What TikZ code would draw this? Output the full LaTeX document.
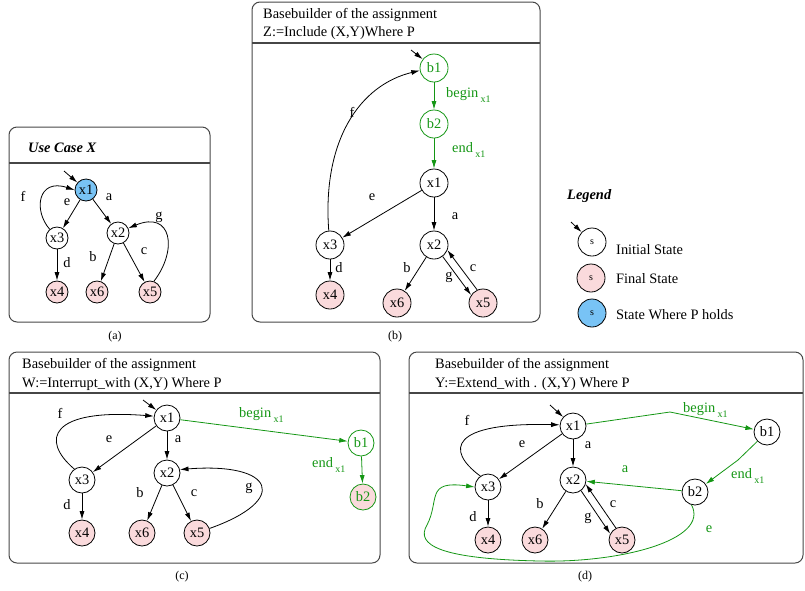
\documentclass[tikz,border=0pt]{standalone}
\usepackage{fontspec}
\setmainfont{Liberation Serif}
\usetikzlibrary{arrows.meta}
\definecolor{gr}{RGB}{20,150,20}
\definecolor{finpink}{RGB}{250,218,220}
\definecolor{pblue}{RGB}{120,195,245}
\definecolor{boxgray}{RGB}{70,70,70}
\newcommand*{\dsm}{22pt}
\newcommand*{\dmd}{26pt}
\newcommand*{\dbg}{28pt}
\newcommand*{\xsub}[1]{#1\,\raisebox{-.8ex}{\fontsize{10}{12}\selectfont x1}}
\newcommand*{\capt}{\fontsize{12}{14}\selectfont}

\tikzset{
    st/.style={circle, draw, inner sep=0pt, minimum size=\dmd, fill=white, line width=0.8pt},
    fin/.style={st, fill=finpink},
    pst/.style={st, fill=pblue},
    gst/.style={st, draw=gr, text=gr},
    tr/.style={-{Latex[length=8.5pt,width=5pt]}, line width=0.8pt},
    gtr/.style={tr, color=gr},
    lbl/.style={inner sep=0pt},
    glbl/.style={lbl, text=gr, anchor=base west},
    ttl/.style={anchor=base west, inner sep=0pt},
    frame/.style={draw=boxgray, line width=1pt, rounded corners=8pt},
    hline/.style={draw=boxgray, line width=1.3pt},
}

\begin{document}
\begin{tikzpicture}[x=1pt, y=-1pt, font=\fontsize{14.4}{17}\selectfont]
    \useasboundingbox (0,0) rectangle (805,590);

    % (a) use case X
    \draw[frame] (9,127) rectangle (210,322);
    \draw[hline] (9,163) -- (210,163);
    \node[ttl] (ta) at (28,152) {\bfseries\itshape Use Case X};
    \begin{scope}[st/.append style={minimum size=\dsm}]
        \node[pst] (ax1) at (86,190) {x1};
        \node[st]  (ax3) at (57,238) {x3};
        \node[st]  (ax2) at (118,233) {x2};
        \node[fin] (ax4) at (57,292) {x4};
        \node[fin] (ax6) at (97,292) {x6};
        \node[fin] (ax5) at (150,292) {x5};
    \end{scope}
    \coordinate (ai) at (64,171);
    \draw[tr] (ai) -- (ax1);
    \draw[tr] (ax1) -- (ax3);
    \draw[tr] (ax1) -- (ax2);
    \draw[tr] (ax3) -- (ax4);
    \draw[tr] (ax2) -- (ax6);
    \draw[tr] (ax2) -- (ax5);
    \draw[tr] (ax3.130) .. controls (33,210) and (38,178) .. (ax1.180);
    \draw[tr] (ax5.70) .. controls (178,250) and (172,210) .. (ax2.25);
    \node[lbl] (af) at (23,196) {f};
    \node[lbl] (ae) at (67,202) {e};
    \node[lbl] (aa) at (109,197) {a};
    \node[lbl] (ag) at (159,217) {g};
    \node[lbl] (ac) at (144,251) {c};
    \node[lbl] (ab) at (93,257) {b};
    \node[lbl] (ad) at (67,263) {d};
    \node (ca) at (115,337) {\capt (a)};

    % (b) include
    \draw[frame] (252,2) rectangle (540,322);
    \draw[hline] (252,43) -- (540,43);
    \node[ttl] (tb1) at (263,18) {Basebuilder of the assignment};
    \node[ttl] (tb2) at (263,36) {Z:=Include (X,Y)Where P};
    \begin{scope}[st/.append style={minimum size=\dbg}]
        \node[gst] (bb1) at (434,68) {b1};
        \node[gst] (bb2) at (434,124) {b2};
        \node[st]  (bx1) at (434,183) {x1};
        \node[st]  (bx3) at (330,245) {x3};
        \node[st]  (bx2) at (434,245) {x2};
        \node[fin] (bx4) at (330,295) {x4};
        \node[fin] (bx6) at (397,303) {x6};
        \node[fin] (bx5) at (483,303) {x5};
    \end{scope}
    \coordinate (bi) at (411,50);
    \draw[tr] (bi) -- (bb1);
    \draw[gtr] (bb1) -- (bb2);
    \draw[gtr] (bb2) -- (bx1);
    \draw[tr] (bx1) -- (bx3);
    \draw[tr] (bx1) -- (bx2);
    \draw[tr] (bx3) -- (bx4);
    \draw[tr] (bx2) -- (bx6);
    \draw[tr] (bx2.-53) -- (bx5.146);
    \draw[tr] (bx5.114) -- (bx2.-21);
    \draw[tr] (bx3.95) .. controls (322,140) and (360,85) .. (bb1.190);
    \node[glbl] (bbeg) at (446,97) {\xsub{begin}};
    \node[glbl] (bend) at (452,152) {\xsub{end}};
    \node[lbl] (bf) at (352,112) {f};
    \node[lbl] (be) at (372,197) {e};
    \node[lbl] (ba) at (455,216) {a};
    \node[lbl] (bd) at (339,268) {d};
    \node[lbl] (bb) at (407,268) {b};
    \node[lbl] (bg) at (449,277) {g};
    \node[lbl] (bc) at (473,268) {c};
    \node (cb) at (395,337) {\capt (b)};

    % legend
    \node[ttl] (tl) at (567,199) {\bfseries\itshape Legend};
    \begin{scope}[st/.append style={minimum size=\dbg, font=\fontsize{10}{12}\selectfont}]
        \node[st]  (ls1) at (592,242) {s};
        \node[fin] (ls2) at (591,278) {s};
        \node[pst] (ls3) at (592,313) {s};
    \end{scope}
    \coordinate (li) at (571,222);
    \draw[tr] (li) -- (ls1);
    \node[ttl] (lt1) at (616,254) {Initial State};
    \node[ttl] (lt2) at (616,283) {Final State};
    \node[ttl] (lt3) at (616,319) {State Where P holds};

    % (c) interrupt
    \draw[frame] (9,352) rectangle (380,563);
    \draw[hline] (9,393) -- (380,393);
    \node[ttl] (tc1) at (22,368) {Basebuilder of the assignment};
    \node[ttl] (tc2) at (22,387) {W:=Interrupt\_with (X,Y) Where P};
    \node[st]  (cx1) at (167,418) {x1};
    \node[st]  (cx3) at (82,480) {x3};
    \node[st]  (cx2) at (167,473) {x2};
    \node[fin] (cx4) at (82,533) {x4};
    \node[fin] (cx6) at (142,533) {x6};
    \node[fin] (cx5) at (197,533) {x5};
    \node[gst] (cb1) at (361,443) {b1};
    \node[gst, fill=finpink] (cb2) at (363,497) {b2};
    \coordinate (ci) at (143,400);
    \draw[tr] (ci) -- (cx1);
    \draw[tr] (cx1) -- (cx3);
    \draw[tr] (cx1) -- (cx2);
    \draw[tr] (cx3) -- (cx4);
    \draw[tr] (cx2) -- (cx6);
    \draw[tr] (cx2) -- (cx5);
    \draw[tr] (cx3.125) .. controls (40,440) and (50,408) .. (cx1.172);
    \draw[tr] (cx5.20) .. controls (290,500) and (275,462) .. (cx2.15);
    \draw[gtr] (cx1) -- (cb1);
    \draw[gtr] (cb1) -- (cb2);
    \node[glbl] (cbeg) at (239,417) {\xsub{begin}};
    \node[glbl] (cend) at (312,467) {\xsub{end}};
    \node[lbl] (cf) at (60,413) {f};
    \node[lbl] (ce) at (109,439) {e};
    \node[lbl] (ca2) at (178,439) {a};
    \node[lbl] (cd) at (67,505) {d};
    \node[lbl] (cbl) at (140,493) {b};
    \node[lbl] (ccl) at (194,493) {c};
    \node[lbl] (cg) at (249,488) {g};
    \node (cc) at (182,577) {\capt (c)};

    % (d) extend
    \draw[frame] (409,352) rectangle (803,563);
    \draw[hline] (409,393) -- (803,393);
    \node[ttl] (td1) at (435,368) {Basebuilder of the assignment};
    \node[ttl] (td2) at (435,387) {Y:=Extend\_with . (X,Y) Where P};
    \node[st]  (dx1) at (573,426) {x1};
    \node[st]  (dx3) at (488,487) {x3};
    \node[st]  (dx2) at (573,480) {x2};
    \node[fin] (dx4) at (488,540) {x4};
    \node[fin] (dx6) at (535,540) {x6};
    \node[fin] (dx5) at (622,540) {x5};
    \node[st]  (db1) at (767,432) {b1};
    \node[st]  (db2) at (695,492) {b2};
    \coordinate (di) at (550,405);
    \coordinate (dk1) at (670,412);
    \coordinate (dk2) at (738,460);
    \draw[tr] (di) -- (dx1);
    \draw[tr] (dx1) -- (dx3);
    \draw[tr] (dx1) -- (dx2);
    \draw[tr] (dx3) -- (dx4);
    \draw[tr] (dx2) -- (dx6);
    \draw[tr] (dx2.-53) -- (dx5.152);
    \draw[tr] (dx5.117) -- (dx2.-18);
    \draw[tr] (dx3.125) .. controls (445,450) and (450,422) .. (dx1.175);
    \draw[gtr] (dx1) -- (dk1) -- (db1);
    \draw[gtr] (db1) -- (dk2) -- (db2);
    \draw[gtr] (db2) -- (dx2);
    \draw[gtr] (db2.255) .. controls (710,540) and (620,563) .. (540,561)
        .. controls (440,559) and (415,545) .. (427,525)
        .. controls (440,500) and (425,480) .. (dx3.180);
    \node[glbl] (dbeg) at (683,412) {\xsub{begin}};
    \node[glbl] (dend) at (731,478) {\xsub{end}};
    \node[lbl, text=gr] (dga) at (625,469) {a};
    \node[lbl, text=gr] (dge) at (709,529) {e};
    \node[lbl] (df) at (467,420) {f};
    \node[lbl] (de) at (522,444) {e};
    \node[lbl] (da) at (588,445) {a};
    \node[lbl] (dd) at (473,517) {d};
    \node[lbl] (dbl) at (540,504) {b};
    \node[lbl] (dg) at (588,518) {g};
    \node[lbl] (dc) at (613,504) {c};
    \node (cd2) at (585,577) {\capt (d)};
\end{tikzpicture}
\end{document}
